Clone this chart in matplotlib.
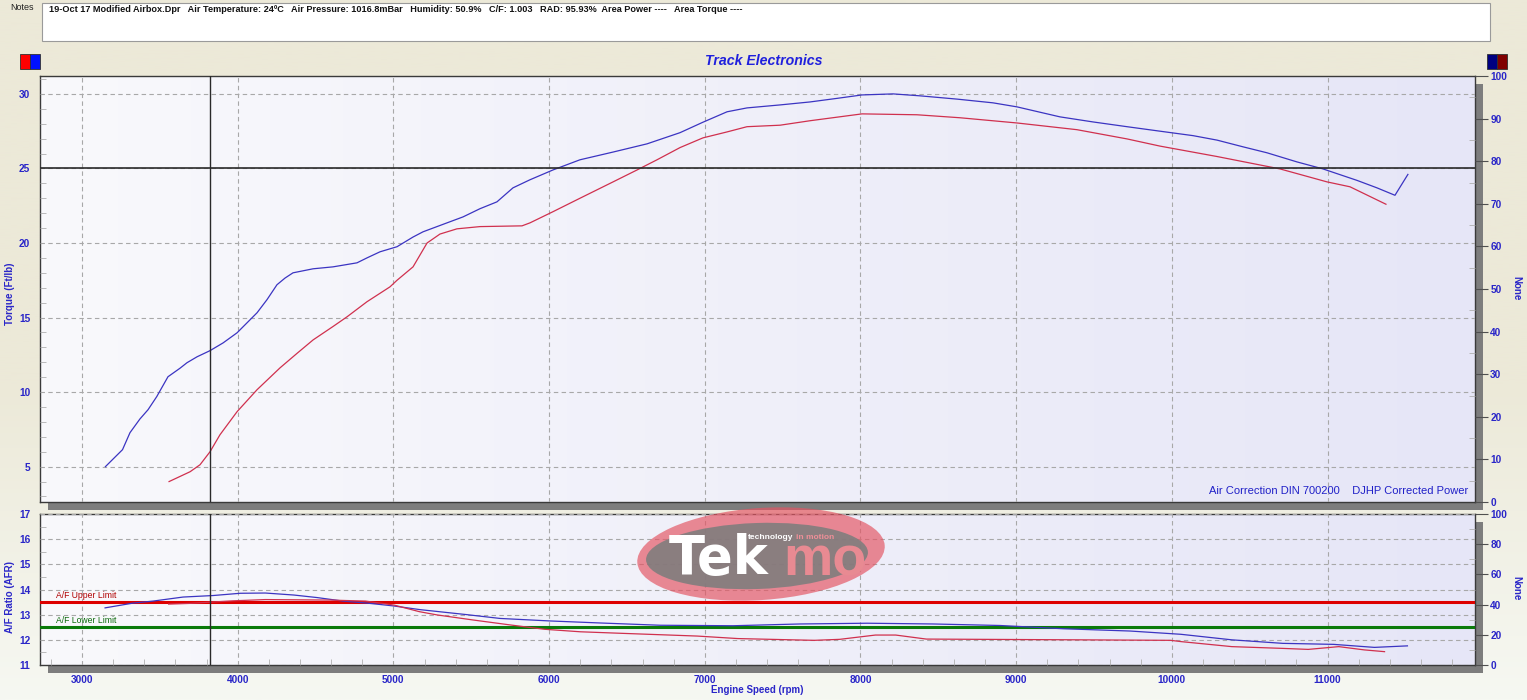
import numpy as np
import matplotlib
matplotlib.use("Agg")
import matplotlib.pyplot as plt
from matplotlib.patches import Rectangle, Ellipse
from matplotlib.ticker import MultipleLocator

# ── Data ─────────────────────────────────────────────────────
rpm_tq_blue = [3150, 3260, 3308, 3372, 3424, 3480, 3552, 3629, 3674, 3739, 3822,
               3906, 3996, 4060, 4124, 4188, 4252, 4304, 4355, 4484, 4612, 4766,
               4830, 4914, 5023, 5126, 5190, 5344, 5447, 5556, 5665, 5768, 5877,
               6025, 6198, 6411, 6629, 6841, 6988, 7143, 7271, 7483, 7676, 7849,
               8010, 8209, 8382, 8620, 8851, 9005, 9281, 9493, 9712, 9923, 10136,
               10290, 10457, 10611, 10803, 10970, 11189, 11317, 11433, 11516]
tq_blue = [5.0, 6.14, 7.28, 8.2, 8.82, 9.7, 11.03, 11.6, 11.97, 12.37, 12.78,
           13.3, 13.98, 14.65, 15.32, 16.2, 17.2, 17.65, 18.0, 18.27, 18.4, 18.67,
           19.0, 19.41, 19.75, 20.4, 20.75, 21.35, 21.75, 22.3, 22.76, 23.7, 24.24,
           24.9, 25.58, 26.1, 26.65, 27.4, 28.1, 28.8, 29.06, 29.26, 29.46, 29.7,
           29.93, 30.0, 29.87, 29.65, 29.4, 29.13, 28.46, 28.12, 27.8, 27.5, 27.2,
           26.9, 26.45, 26.05, 25.44, 24.97, 24.2, 23.7, 23.2, 24.6]

rpm_tq_red = [3559, 3694, 3758, 3822, 3886, 3996, 4124, 4272, 4381, 4484, 4612,
              4702, 4830, 4978, 5023, 5126, 5171, 5216, 5299, 5408, 5556, 5826,
              5877, 6025, 6198, 6411, 6565, 6693, 6841, 6988, 7143, 7271, 7483,
              7676, 8010, 8363, 8639, 9005, 9390, 9712, 9923, 10290, 10694, 10996,
              11144, 11375]
tq_red = [4.0, 4.66, 5.13, 6.0, 7.14, 8.69, 10.16, 11.63, 12.6, 13.5, 14.4,
          15.05, 16.06, 17.06, 17.5, 18.4, 19.2, 20.0, 20.6, 20.95, 21.1, 21.15,
          21.35, 22.1, 23.0, 24.1, 24.9, 25.58, 26.4, 27.05, 27.45, 27.8, 27.9,
          28.2, 28.66, 28.6, 28.4, 28.05, 27.6, 26.98, 26.5, 25.8, 24.97, 24.1,
          23.77, 22.6]

rpm_afr_blue = [3148, 3328, 3456, 3649, 3841, 4016, 4177, 4361, 4509, 4676, 4830,
                4997, 5171, 5473, 5685, 6006, 6327, 6712, 7181, 7611, 8042, 8466,
                8896, 9306, 9731, 10058, 10385, 10712, 11039, 11301, 11513]
afr_blue = [13.27, 13.46, 13.54, 13.7, 13.76, 13.85, 13.86, 13.78, 13.68, 13.54, 13.46,
            13.35, 13.2, 13.0, 12.85, 12.75, 12.67, 12.58, 12.56, 12.63, 12.66, 12.63,
            12.57, 12.44, 12.35, 12.22, 12.0, 11.86, 11.82, 11.7, 11.76]

rpm_afr_red = [3556, 3700, 3830, 3970, 4177, 4591, 4821, 5005, 5166, 5280, 5510,
               5740, 5970, 6200, 6460, 6951, 7213, 7703, 7867, 8096, 8226, 8423,
               8750, 9404, 9993, 10058, 10385, 10712, 10876, 11072, 11236, 11366]
afr_red = [13.42, 13.45, 13.5, 13.55, 13.6, 13.58, 13.54, 13.38, 13.12, 12.99, 12.79,
           12.6, 12.42, 12.32, 12.26, 12.15, 12.05, 11.98, 12.02, 12.19, 12.19, 12.03,
           12.02, 12.0, 11.98, 11.93, 11.73, 11.66, 11.62, 11.73, 11.6, 11.53]

afr_upper = 13.5
afr_lower = 12.5
cursor_rpm = 3822
cursor_tq = 25

notes = ("19-Oct 17 Modified Airbox.Dpr   Air Temperature: 24ºC   Air Pressure: 1016.8mBar   "
         "Humidity: 50.9%   C/F: 1.003   RAD: 95.93%  Area Power ----   Area Torque ----")

# ── Figure / layout (pixel helpers) ──────────────────────────
W, H = 1527, 700
BLUE_TXT = "#2a26c8"
FONT = ["Liberation Sans", "DejaVu Sans"]


def box(l, t, r, b):
    return [l / W, 1 - b / H, (r - l) / W, (b - t) / H]


def pin(px, py):
    return px / 100, (H - py) / 100


fig = plt.figure(figsize=(W / 100, H / 100), dpi=100)

# background gradient (beige -> near white)
bg = fig.add_axes([0, 0, 1, 1], zorder=-10)
g = np.linspace(0, 1, 256)[:, None]
top_c = np.array([236, 233, 216]) / 255
bot_c = np.array([246, 248, 242]) / 255
t = np.clip((g - 0.55) / 0.45, 0, 1)
bg.imshow(top_c * (1 - t[..., None]) + bot_c * t[..., None], aspect="auto",
          extent=[0, 1, 0, 1])
bg.axis("off")

# notes box
fig.add_artist(Rectangle(pin(42, 41), 1448 / 100, 38 / 100, transform=fig.dpi_scale_trans,
                         facecolor="white", edgecolor="#9a9a9a", lw=0.8))
fig.text(10 / W, 1 - 7 / H, "Notes", fontsize=6.5, family=FONT, va="center", color="#222222")
fig.text(49 / W, 1 - 10 / H, notes, fontsize=6.6, fontweight="bold",
         family=FONT, va="center", color="#111111")

# colour markers
for x0, c in [(20, "#ff0000"), (30, "#0010ff"), (1487, "#000080"), (1497, "#800000")]:
    fig.add_artist(Rectangle(pin(x0, 69), 9.5 / 100, 15 / 100, transform=fig.dpi_scale_trans,
                             facecolor=c, edgecolor="#303030", lw=0.6))

fig.text(764 / W, 1 - 61 / H, "Track Electronics", fontsize=10.2, fontweight="bold",
         fontstyle="italic", family=FONT, color="#2020dd", ha="center", va="center")

# 3D-ish shadows behind the panels
for (l, tp, r, b) in [(48, 84, 1483, 510), (48, 522, 1483, 673)]:
    fig.add_artist(Rectangle(pin(l, b), (r - l) / 100, (b - tp) / 100,
                             transform=fig.dpi_scale_trans, facecolor="#7d7d7d",
                             edgecolor="none", zorder=-1))

ax = fig.add_axes(box(40, 76, 1475, 502))
ax2 = fig.add_axes(box(40, 514, 1475, 665), sharex=ax)

xlim = (2730, 11947)
ax.set_xlim(*xlim)
ax.set_ylim(2.63, 31.2)
ax2.set_ylim(11, 17)

for a in (ax, ax2):
    a.set_facecolor("none")
    a.set_autoscale_on(False)
    grad = np.linspace(0, 1, 256)[None, :]
    c0 = np.array([249, 249, 252]) / 255
    c1 = np.array([230, 230, 247]) / 255
    img = c0 * (1 - grad[..., None]) + c1 * grad[..., None]
    y0, y1 = a.get_ylim()
    a.imshow(img, aspect="auto", extent=[xlim[0], xlim[1], y0, y1], zorder=0)
    a.grid(True, which="major", color="#a8a8a8", ls=(0, (4, 3)), lw=0.8)
    a.set_axisbelow(False)
    for s in a.spines.values():
        s.set_color("#3a3a3a")
        s.set_linewidth(1.0)
    a.xaxis.set_major_locator(MultipleLocator(1000))
    a.tick_params(axis="both", which="major", length=0, labelsize=7.3,
                  labelcolor=BLUE_TXT)
    a.tick_params(axis="both", which="minor", direction="in", length=4,
                  color="#b0b0b0")
    for lab in a.get_xticklabels() + a.get_yticklabels():
        lab.set_fontweight("bold")
        lab.set_family(FONT)
    a.axvline(cursor_rpm, color="#2a2a2a", lw=1.0, zorder=5)

ax.yaxis.set_major_locator(MultipleLocator(5))
ax.yaxis.set_minor_locator(MultipleLocator(1))
ax.tick_params(axis="x", which="both", bottom=False, labelbottom=False)
ax.tick_params(axis="y", pad=7)
ax2.yaxis.set_major_locator(MultipleLocator(1))
ax2.yaxis.set_minor_locator(MultipleLocator(0.5))
ax2.xaxis.set_minor_locator(MultipleLocator(200))
ax2.tick_params(axis="x", pad=7)
ax2.tick_params(axis="y", pad=7)
ax2.set_xticks(range(3000, 11001, 1000))

# ── curves ───────────────────────────────────────────────────
ax.plot(rpm_tq_blue, tq_blue, color="#3b34c2", lw=0.9, zorder=4)
ax.plot(rpm_tq_red, tq_red, color="#d0304e", lw=0.9, zorder=4)
ax.axhline(cursor_tq, color="#2a2a2a", lw=1.2, zorder=5)

ax2.axhline(afr_upper, color="#dd0000", lw=2.2, zorder=3)
ax2.axhline(afr_lower, color="#0a7a0a", lw=2.2, zorder=3)
ax2.plot(rpm_afr_blue, afr_blue, color="#3b34c2", lw=0.9, zorder=4)
ax2.plot(rpm_afr_red, afr_red, color="#d0304e", lw=0.9, zorder=4)
ax2.text(2830, afr_upper + 0.1, "A/F Upper Limit", fontsize=6.2, color="#b00000",
         family=FONT, va="bottom", zorder=6)
ax2.text(2830, afr_lower + 0.1, "A/F Lower Limit", fontsize=6.2, color="#0a6a0a",
         family=FONT, va="bottom", zorder=6)

ax.text(0.995, 0.025, "Air Correction DIN 700200    DJHP Corrected Power",
        transform=ax.transAxes, ha="right", va="center", fontsize=8,
        family=FONT, color="#2020c8", zorder=6)

# right hand "None" axes
for a, step, minor in [(ax, 10, 5), (ax2, 20, 10)]:
    r = a.twinx()
    r.set_ylim(0, 100)
    r.yaxis.set_major_locator(MultipleLocator(step))
    r.yaxis.set_minor_locator(MultipleLocator(minor))
    r.tick_params(axis="y", which="major", length=9, color="#505050", pad=2,
                  labelsize=7.3, labelcolor=BLUE_TXT)
    r.tick_params(axis="y", which="minor", direction="in", length=4, color="#b0b0b0")
    for lab in r.get_yticklabels():
        lab.set_fontweight("bold")
        lab.set_family(FONT)
    for s in r.spines.values():
        s.set_visible(False)

# axis titles
lab_kw = dict(fontsize=7, fontweight="bold", family=FONT, color=BLUE_TXT,
              ha="center", va="center")
fig.text(10 / W, 1 - 294 / H, "Torque (Ft/lb)", rotation=90, **lab_kw)
fig.text(10 / W, 1 - 597 / H, "A/F Ratio (AFR)", rotation=90, **lab_kw)
fig.text(1516 / W, 1 - 288 / H, "None", rotation=270, **lab_kw)
fig.text(1516 / W, 1 - 588 / H, "None", rotation=270, **lab_kw)
fig.text(757 / W, 1 - 690 / H, "Engine Speed (rpm)", **lab_kw)

# ── Tekmo watermark ──────────────────────────────────────────
fig.add_artist(Ellipse(pin(761, 554), 2.48, 0.92, angle=4, transform=fig.dpi_scale_trans,
                       facecolor="#e45563", alpha=0.68, edgecolor="none", zorder=8))
fig.add_artist(Ellipse(pin(757, 556), 2.22, 0.66, angle=2, transform=fig.dpi_scale_trans,
                       facecolor="#7d7d7d", alpha=0.88, edgecolor="none", zorder=9))
logo_kw = dict(transform=fig.dpi_scale_trans, fontweight="bold",
               va="baseline", ha="left", zorder=10)
fig.text(*pin(669, 574), "Tek", fontsize=38, color="white", family="DejaVu Sans", **logo_kw)
fig.text(*pin(783, 575), "mo", fontsize=40, color="#e88a92", family=FONT, **logo_kw)
fig.text(*pin(748, 539), "technology", fontsize=6, color="white", family=FONT, **logo_kw)
fig.text(*pin(796, 539), "in motion", fontsize=6, color="#ef8f98", family=FONT, **logo_kw)

fig.savefig("out.png", dpi=100)
